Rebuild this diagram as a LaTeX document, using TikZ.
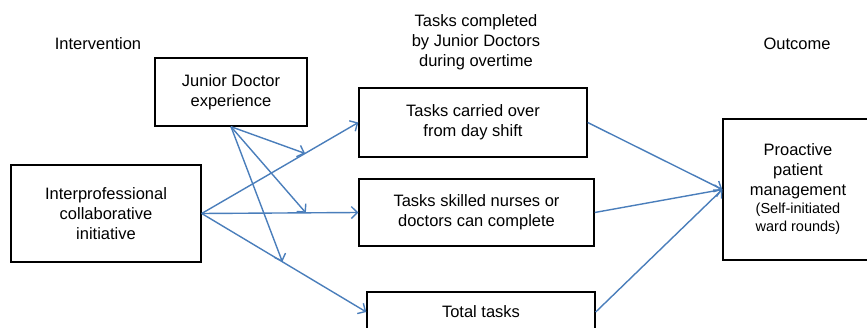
\documentclass[tikz,border=0pt]{standalone}
\usepackage{fontspec}
\setmainfont{Liberation Sans}
\usetikzlibrary{arrows.meta,calc}
\definecolor{arrowblue}{HTML}{4A7EBB}
\tikzset{
  box/.style={draw=black, line width=1.4pt, inner sep=0pt, align=center,
    font=\fontsize{16.5}{20}\selectfont},
  hdr/.style={inner sep=0pt, align=center, font=\fontsize{16.5}{20}\selectfont},
  link/.style={draw=arrowblue, line width=1.4pt,
    -{Straight Barb[length=6pt,width=12pt,line width=1.4pt]}}
}
\begin{document}
\begin{tikzpicture}[x=1pt,y=-1pt]
\useasboundingbox (0,0) rectangle (867,328);
\clip (0,0) rectangle (867,328);
\node[hdr] (h1) at (98,44) {Intervention};
\node[hdr] (h2) at (476,42) {Tasks completed\\by Junior Doctors\\during overtime};
\node[hdr] (h3) at (797,44) {Outcome};
\node[box, minimum width=152pt, minimum height=68pt] (jd) at (231,92) {Junior Doctor\\experience};
\node[box, minimum width=190pt, minimum height=97pt] (ip) at (106,213.5) {Interprofessional\\collaborative\\initiative};
\node[box, minimum width=228pt, minimum height=69pt] (tc) at (473,122.5) {Tasks carried over\\from day shift};
\node[box, minimum width=235pt, minimum height=67pt] (ts) at (476.5,212.5) {Tasks skilled nurses or\\doctors can complete};
\node[box, minimum width=228pt, minimum height=40pt] (tt) at (481,312) {Total tasks};
\node[box, minimum width=150pt, minimum height=141pt] (pp) at (798,189.5) {Proactive\\patient\\management\\[-2pt]{\fontsize{14.5}{18}\selectfont (Self-initiated}\\[-2pt]{\fontsize{14.5}{18}\selectfont ward rounds)}};
\coordinate (m1) at ($(ip.east)!0.66!(tc.west)$);
\coordinate (m2) at ($(ip.east)!0.665!(ts.west)$);
\coordinate (m3) at ($(ip.east)!0.49!(tt.west)$);
\draw[link] (ip.east) -- (tc.west);
\draw[link] (ip.east) -- (ts.west);
\draw[link] (ip.east) -- (tt.west);
\draw[link] (jd.south) -- (m1);
\draw[link] (jd.south) -- (m2);
\draw[link] (jd.south) -- (m3);
\draw[link] (tc.east) -- (pp.west);
\draw[link] (ts.east) -- (pp.west);
\draw[link] (tt.east) -- (pp.west);
\end{tikzpicture}
\end{document}
